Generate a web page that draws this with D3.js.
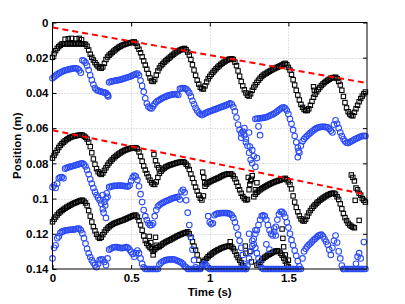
<!DOCTYPE html>
<html>
<head>
<meta charset="utf-8">
<script src="https://cdn.jsdelivr.net/npm/d3@7"></script>
<style>
  body { margin: 0; background: #fff; }
  svg { display: block; }
</style>
</head>
<body>
<svg id="chart" width="405" height="304"></svg>
<script>
// samples every 10 ms, values in metres (null = no marker)
const SAMPLE_DT = 0.01;

const xTicks = [0, 0.5, 1, 1.5];
const yTicks = [0, 0.02, 0.04, 0.06, 0.08, 0.1, 0.12, 0.14];

// black squares, upper trace
const blackTop = [
  0.0198, 0.0178, 0.0160, 0.0147, 0.0137, 0.0129, 0.0122, 0.0121, 0.0121, 0.0121,
  0.0121, 0.0121, 0.0121, 0.0121, 0.0121, 0.0121, 0.0121, 0.0121, 0.0121, 0.0121,
  0.0122, 0.0124, 0.0135, 0.0156, 0.0180, 0.0198, 0.0213, 0.0228, 0.0240, 0.0250,
  0.0258, 0.0260, 0.0252, 0.0232, 0.0210, 0.0196, 0.0186, 0.0178, 0.0170, 0.0162,
  0.0155, 0.0148, 0.0141, 0.0136, 0.0131, 0.0127, 0.0124, 0.0121, 0.0118, 0.0116,
  0.0114, 0.0112, 0.0110, 0.0118, 0.0135, 0.0152, 0.0172, 0.0195, 0.0218, 0.0242,
  0.0265, 0.0290, 0.0315, 0.0332, 0.0335, 0.0325, 0.0298, 0.0275, 0.0258, 0.0245,
  0.0236, 0.0226, 0.0218, 0.0210, 0.0203, 0.0195, 0.0187, 0.0180, 0.0173, 0.0167,
  0.0162, 0.0157, 0.0153, 0.0150, 0.0147, 0.0155, 0.0168, 0.0185, 0.0210, 0.0240,
  0.0270, 0.0300, 0.0328, 0.0350, 0.0368, 0.0376, 0.0378, 0.0360, 0.0338, 0.0320,
  0.0306, 0.0294, 0.0283, 0.0273, 0.0263, 0.0254, 0.0246, 0.0238, 0.0231, 0.0225,
  0.0219, 0.0214, 0.0210, 0.0207, 0.0206, 0.0210, 0.0225, 0.0245, 0.0275, 0.0305,
  0.0335, 0.0360, 0.0382, 0.0400, 0.0413, 0.0418, 0.0405, 0.0385, 0.0368, 0.0354,
  0.0340, 0.0328, 0.0317, 0.0307, 0.0299, 0.0293, 0.0288, 0.0282, 0.0277, 0.0272,
  0.0267, 0.0262, 0.0258, 0.0254, 0.0250, 0.0246, 0.0241, 0.0236, 0.0232, 0.0240,
  0.0255, 0.0270, 0.0295, 0.0325, 0.0355, 0.0385, 0.0412, 0.0440, 0.0465, 0.0482,
  0.0494, 0.0500, 0.0500, 0.0490, 0.0470, 0.0448, 0.0425, 0.0408, 0.0393, 0.0380,
  0.0369, 0.0358, 0.0349, 0.0341, 0.0334, 0.0328, 0.0322, 0.0317, 0.0314, 0.0312,
  0.0311, 0.0318, 0.0335, 0.0355, 0.0385, 0.0420, 0.0455, 0.0485, 0.0507, 0.0520,
  0.0528, 0.0530, 0.0510, 0.0490, 0.0470, 0.0450, 0.0432, 0.0418, 0.0405, 0.0395
];

// blue circles, upper trace
const blueTop = [
  0.0317, 0.0310, 0.0302, 0.0295, 0.0289, 0.0284, 0.0280, 0.0276, 0.0272, 0.0270,
  0.0267, 0.0265, 0.0263, 0.0261, 0.0260, 0.0260, 0.0263, 0.0272, 0.0285, 0.0215,
  0.0218, 0.0228, 0.0245, 0.0270, 0.0300, 0.0327, 0.0352, 0.0372, 0.0382, 0.0387,
  0.0390, 0.0393, 0.0396, 0.0398, 0.0400, 0.0410, 0.0340, 0.0336, 0.0334, 0.0332,
  0.0330, 0.0329, 0.0327, 0.0325, 0.0323, 0.0320, 0.0317, 0.0314, 0.0311, 0.0308,
  0.0305, 0.0300, 0.0297, 0.0293, 0.0290, 0.0300, 0.0330, 0.0360, 0.0393, 0.0430,
  0.0460, 0.0478, 0.0486, 0.0488, 0.0475, 0.0462, 0.0452, 0.0445, 0.0440, 0.0434,
  0.0429, 0.0425, 0.0421, 0.0417, 0.0414, 0.0412, 0.0410, 0.0408, 0.0406, 0.0408,
  0.0412, 0.0376, 0.0374, 0.0373, 0.0374, 0.0378, 0.0386, 0.0400, 0.0420, 0.0445,
  0.0465, 0.0485, 0.0500, 0.0512, 0.0520, 0.0526, 0.0522, 0.0516, 0.0512, 0.0508,
  0.0505, 0.0501, 0.0498, 0.0495, 0.0491, 0.0488, 0.0484, 0.0481, 0.0478, 0.0475,
  0.0471, 0.0468, 0.0463, 0.0459, 0.0465, 0.0480, 0.0505, 0.0540, 0.0580, 0.0610,
  0.0630, 0.0620, 0.0640, 0.0660, 0.0700, 0.0740, 0.0780, 0.0800, 0.0760, 0.0548,
  0.0546, 0.0545, 0.0544, 0.0543, 0.0542, 0.0540, 0.0538, 0.0534, 0.0530, 0.0526,
  0.0522, 0.0517, 0.0511, 0.0504, 0.0497, 0.0490, 0.0484, 0.0482, 0.0488, 0.0500,
  0.0520, 0.0548, 0.0575, 0.0610, 0.0645, 0.0680, 0.0710, 0.0740, 0.0700, 0.0675,
  0.0662, 0.0652, 0.0643, 0.0635, 0.0627, 0.0619, 0.0612, 0.0606, 0.0600, 0.0597,
  0.0594, 0.0593, 0.0592, 0.0593, 0.0594, 0.0596, 0.0605, 0.0615, 0.0625, 0.0580,
  0.0556, 0.0575, 0.0600, 0.0625, 0.0645, 0.0662, 0.0675, 0.0683, 0.0685, 0.0680,
  0.0675, 0.0670, 0.0665, 0.0660, 0.0656, 0.0652, 0.0648, 0.0645, 0.0644, 0.0645
];

// black squares, middle trace
const blackMid = [
  0.0770, 0.0755, 0.0740, 0.0725, 0.0710, 0.0698, 0.0688, 0.0680, 0.0672, 0.0665,
  0.0659, 0.0654, 0.0650, 0.0647, 0.0645, 0.0643, 0.0641, 0.0640, 0.0639, 0.0640,
  0.0645, 0.0652, 0.0662, 0.0680, 0.0705, 0.0740, 0.0775, 0.0805, 0.0830, 0.0848,
  0.0858, 0.0863, 0.0855, 0.0840, 0.0825, 0.0810, 0.0798, 0.0788, 0.0778, 0.0769,
  0.0761, 0.0754, 0.0747, 0.0741, 0.0735, 0.0730, 0.0726, 0.0722, 0.0719, 0.0716,
  0.0714, 0.0712, 0.0711, 0.0711, 0.0718, 0.0735, 0.0760, 0.0788, 0.0815, 0.0838,
  0.0858, 0.0877, 0.0895, 0.0910, 0.0918, 0.0920, 0.0905, 0.0880, 0.0857, 0.0845,
  0.0835, 0.0827, 0.0821, 0.0816, 0.0812, 0.0809, 0.0806, 0.0803, 0.0800, 0.0797,
  0.0795, 0.0793, 0.0792, 0.0791, 0.0795, 0.0805, 0.0815, 0.0835, 0.0860, 0.0885,
  0.0910, 0.0935, 0.0958, 0.0980, 0.0998, 0.1008, 0.0985, 0.0930, 0.0918, 0.0910,
  0.0905, 0.0900, 0.0896, 0.0892, 0.0888, 0.0884, 0.0880, 0.0875, 0.0870, 0.0866,
  0.0863, 0.0861, 0.0860, 0.0859, 0.0862, 0.0872, 0.0888, 0.0908, 0.0930, 0.0950,
  0.0970, 0.0988, 0.1000, 0.1008, 0.1005, 0.0950, 0.0900, 0.0870, 0.0990, 0.0975,
  0.0965, 0.0957, 0.0950, 0.0944, 0.0938, 0.0933, 0.0928, 0.0923, 0.0918, 0.0914,
  0.0910, 0.0906, 0.0903, 0.0900, 0.0897, 0.0894, 0.0890, 0.0887, 0.0885, 0.0893,
  0.0905, 0.0920, 0.0945, 0.0985, 0.1020, 0.1050, 0.1075, 0.1098, 0.1115, 0.1125,
  0.1128, 0.1118, 0.1100, 0.1082, 0.1068, 0.1055, 0.1044, 0.1035, 0.1026, 0.1018,
  0.1010, 0.1003, 0.0997, 0.0991, 0.0985, 0.0980, 0.0976, 0.0972, 0.0970, 0.0969,
  0.0975, 0.0990, 0.1005, 0.1030, 0.1058, 0.1085, 0.1108, 0.1125, 0.1140, 0.1150,
  0.1157, 0.1162, 0.1166, null, null, null, null, null, null, null
];

// blue circles, middle trace
const blueMid = [
  0.0935, 0.0925, 0.0940, 0.0915, 0.0885, 0.0880, 0.0878, 0.0885, 0.0830, 0.0826,
  0.0822, 0.0820, 0.0818, 0.0815, 0.0812, 0.0810, 0.0807, 0.0804, 0.0801, 0.0800,
  0.0806, 0.0818, 0.0838, 0.0862, 0.0890, 0.0915, 0.0940, 0.0962, 0.0980, 0.0995,
  0.1010, 0.1030, 0.1060, 0.1020, 0.1000, 0.0990, 0.0935, 0.0932, 0.0930, 0.0928,
  0.0927, 0.0927, 0.0926, 0.0926, 0.0927, 0.0928, 0.0929, 0.0930, 0.0932, 0.0925,
  0.0900, 0.0880, 0.0870, 0.0875, 0.0895, 0.0930, 0.0975, 0.1020, 0.1065, 0.1100,
  0.1122, 0.1140, 0.1151, 0.1150, 0.1140, 0.1100, 0.1065, 0.1045, 0.1037, 0.1030,
  0.1025, 0.1020, 0.1015, 0.1011, 0.1008, 0.1004, 0.1000, 0.0997, 0.0995, 0.0992,
  0.0990, 0.1005, 0.0960, 0.0950, 0.0965, 0.1010, 0.1080, 0.1150, 0.1220, 0.1290,
  0.1350, 0.1390, null, null, null, null, null, null, null, 0.1100,
  0.1135, 0.1145, 0.1140, 0.1095, 0.1088, 0.1085, 0.1084, 0.1083, 0.1082, 0.1082,
  0.1082, 0.1083, 0.1084, 0.1088, 0.1095, 0.1110, 0.1135, 0.1165, 0.1205, 0.1240,
  0.1280, 0.1320, 0.1370, 0.1400, null, null, null, null, 0.1230, 0.1200,
  0.1180, 0.1150, 0.1120, 0.1100, 0.1095, 0.1100, 0.1120, 0.1150, 0.1180, 0.1200,
  0.1210, 0.1190, 0.1160, 0.1120, 0.1090, 0.1075, 0.1075, 0.1085, 0.1105, 0.1135,
  0.1165, 0.1200, 0.1235, 0.1265, 0.1295, 0.1325, 0.1355, 0.1385, 0.1400, 0.1340,
  0.1300, 0.1285, 0.1272, 0.1262, 0.1255, 0.1245, 0.1236, 0.1228, 0.1220, 0.1212,
  0.1207, 0.1205, 0.1215, 0.1230, 0.1245, 0.1262, 0.1290, 0.1320, 0.1280, 0.1240,
  0.1210, 0.1250, 0.1300, 0.1340, 0.1380, 0.1400, null, null, null, null,
  null, null, null, 0.1370, 0.1330, 0.1310, 0.1340, null, 0.1247, null
];

// black squares, lower trace
const blackLow = [
  0.1132, 0.1118, 0.1105, 0.1093, 0.1083, 0.1075, 0.1068, 0.1061, 0.1055, 0.1049,
  0.1044, 0.1039, 0.1034, 0.1029, 0.1025, 0.1022, 0.1018, 0.1014, 0.1011, 0.1009,
  0.1015, 0.1025, 0.1040, 0.1068, 0.1100, 0.1133, 0.1160, 0.1183, 0.1203, 0.1218,
  0.1226, 0.1220, 0.1205, 0.1190, 0.1178, 0.1168, 0.1160, 0.1153, 0.1147, 0.1142,
  0.1138, 0.1135, 0.1131, 0.1128, 0.1125, 0.1122, 0.1118, 0.1114, 0.1110, 0.1106,
  0.1102, 0.1098, 0.1095, 0.1094, 0.1105, 0.1125, 0.1150, 0.1180, 0.1212, 0.1238,
  0.1255, 0.1268, 0.1278, 0.1285, 0.1300, 0.1290, 0.1280, 0.1276, 0.1272, 0.1265,
  0.1258, 0.1252, 0.1247, 0.1242, 0.1238, 0.1234, 0.1229, 0.1224, 0.1219, 0.1214,
  0.1210, 0.1206, 0.1202, 0.1198, 0.1195, 0.1192, 0.1189, 0.1200, 0.1220, 0.1245,
  0.1270, 0.1293, 0.1320, 0.1350, 0.1397, 0.1375, 0.1359, 0.1350, 0.1340, 0.1330,
  0.1322, 0.1315, 0.1308, 0.1302, 0.1297, 0.1292, 0.1288, 0.1283, 0.1279, 0.1276,
  0.1273, 0.1271, 0.1270, 0.1270, 0.1275, 0.1285, 0.1300, 0.1320, 0.1335, 0.1350,
  0.1365, 0.1380, 0.1395, null, null, null, null, null, null, null,
  0.1378, 0.1370, 0.1362, 0.1350, 0.1340, 0.1333, 0.1327, 0.1321, 0.1316, 0.1311,
  0.1306, 0.1302, 0.1298, 0.1296, 0.1300, 0.1310, 0.1322, 0.1338, 0.1355, 0.1372,
  0.1388, null, null, null, null, null, null, null, null, null,
  null, null, null, null, null, null, null, null, null, null,
  null, null, null, null, null, null, null, null, null, null,
  null, null, null, null, null, null, null, null, null, null,
  null, null, null, null, null, null, null, null, null, null
];

// blue circles, lower trace (0.14 = sits on the bottom edge)
const blueLow = [
  0.1340, 0.1280, 0.1265, 0.1225, 0.1215, 0.1195, 0.1188, 0.1185, 0.1182, 0.1180,
  0.1179, 0.1178, 0.1177, 0.1176, 0.1175, 0.1173, 0.1171, 0.1170, 0.1180, 0.1198,
  0.1225, 0.1255, 0.1285, 0.1311, 0.1332, 0.1350, 0.1365, 0.1378, 0.1390, 0.1370,
  0.1350, 0.1345, 0.1346, 0.1360, 0.1378, 0.1340, 0.1290, 0.1285, 0.1280, 0.1277,
  0.1275, 0.1276, 0.1278, 0.1280, 0.1282, 0.1280, 0.1278, 0.1276, 0.1280, 0.1290,
  0.1302, 0.1315, 0.1331, 0.1310, 0.1295, 0.1310, 0.1340, 0.1370, 0.1390, 0.1400,
  0.1400, 0.1400, 0.1400, 0.1400, 0.1400, 0.1400, 0.1400, 0.1400, 0.1375, 0.1365,
  0.1358, 0.1353, 0.1350, 0.1348, 0.1346, 0.1346, 0.1345, 0.1346, 0.1348, 0.1352,
  0.1356, 0.1359, 0.1365, 0.1372, 0.1385, 0.1390, 0.1400, 0.1400, 0.1400, 0.1400,
  0.1400, 0.1400, 0.1400, 0.1400, 0.1400, 0.1385, 0.1375, 0.1370, 0.1380, 0.1395,
  0.1400, 0.1400, 0.1400, 0.1400, 0.1400, 0.1400, 0.1400, 0.1400, 0.1400, 0.1400,
  0.1400, 0.1400, 0.1400, 0.1400, 0.1400, 0.1400, 0.1400, 0.1400, 0.1400, 0.1400,
  0.1400, 0.1400, 0.1400, 0.1400, 0.1380, 0.1340, 0.1300, 0.1270, 0.1260, 0.1280,
  0.1310, 0.1340, 0.1370, 0.1395, 0.1400, 0.1400, 0.1400, 0.1400, 0.1400, 0.1400,
  0.1400, 0.1400, 0.1400, 0.1400, 0.1400, 0.1400, 0.1400, 0.1400, 0.1400, 0.1400,
  0.1400, 0.1400, 0.1400, 0.1400, 0.1400, 0.1400, 0.1400, 0.1400, null, null,
  null, null, null, null, null, null, null, null, null, null,
  null, null, null, null, null, null, null, null, null, null,
  null, null, null, null, null, 0.1400, 0.1400, 0.1400, 0.1400, 0.1400,
  0.1400, 0.1400, 0.1400, 0.1400, 0.1400, 0.1400, 0.1400, 0.1400, 0.1400, 0.1400
];

// stray markers off the main traces: [time, position]
const blackStray = [
  [0.08, 0.0095], [0.10, 0.0092], [0.12, 0.0090], [0.15, 0.0092], [0.17, 0.0090], [0.185, 0.0098],
  [0.645, 0.0750], [0.655, 0.0785], [0.665, 0.0810], [0.675, 0.0825],
  [0.955, 0.0850], [0.962, 0.0880], [0.968, 0.0910],
  [1.245, 0.0880], [1.255, 0.0920], [1.265, 0.0890], [1.29, 0.0950], [1.30, 0.0910],
  [1.66, 0.0365], [1.665, 0.0385],
  [1.90, 0.0866], [1.91, 0.0880], [1.92, 0.0900], [1.93, 0.0940], [1.94, 0.0950],
  [1.95, 0.0970], [1.96, 0.0980], [1.97, 0.1000], [1.98, 0.1010], [1.99, 0.1020],
  [1.925, 0.1010], [1.95, 0.1124],
  [0.615, 0.1215], [0.625, 0.1250], [0.64, 0.1320], [0.655, 0.1220], [0.66, 0.1265],
  [1.13, 0.1245], [1.226, 0.1270], [1.23, 0.1310], [1.255, 0.1300], [1.265, 0.1360],
  [1.46, 0.1173], [1.465, 0.1226], [1.47, 0.1274], [1.48, 0.1320], [1.50, 0.1350]
];

const blueStray = [
  [0.32, 0.0980], [0.325, 0.1080], [0.335, 0.1040], [0.34, 0.1110], [0.345, 0.0970],
  [0.35, 0.0415], [0.355, 0.0420],
  [1.20, 0.0655], [1.22, 0.0600], [1.23, 0.0680], [1.25, 0.0625], [1.255, 0.0705],
  [1.27, 0.0725], [1.29, 0.0820], [1.30, 0.0770], [1.31, 0.0590], [1.32, 0.0640],
  [1.56, 0.0765], [1.565, 0.0730],
  [1.25, 0.1200], [1.27, 0.1240], [1.29, 0.1180],
  [1.36, 0.1260], [1.38, 0.1290], [1.41, 0.1170], [1.42, 0.1210]
];

// red dashed envelopes: [time, position] at both ends
const envelopeTop = [[0, 0.0028], [1.99, 0.0342]];
const envelopeMid = [[0, 0.0612], [1.99, 0.0976]];

const svg = d3.select("#chart");
const margin = { left: 52.5, right: 38, top: 22.5, bottom: 35 };
const W = 405, H = 304;

const x = d3.scaleLinear().domain([0, 2]).range([margin.left, W - margin.right]);
const y = d3.scaleLinear().domain([0, 0.14]).range([margin.top, H - margin.bottom]);

const FONT = "'Liberation Sans', Arial, Helvetica, sans-serif";

function samples(values) {
  var out = [];
  for (var i = 0; i < values.length; i++) {
    if (values[i] != null) out.push([i * SAMPLE_DT, values[i]]);
  }
  return out;
}

// grid
const grid = svg.append("g")
    .attr("stroke", "#c4c4c4")
    .attr("stroke-width", 1)
    .attr("stroke-dasharray", "1,2");

grid.selectAll("line.gx")
    .data(xTicks.slice(1))
  .enter().append("line")
    .attr("x1", d => Math.round(x(d)) + 0.5)
    .attr("x2", d => Math.round(x(d)) + 0.5)
    .attr("y1", y(0))
    .attr("y2", y(0.14));

grid.selectAll("line.gy")
    .data(yTicks.slice(1, -1))
  .enter().append("line")
    .attr("y1", d => Math.round(y(d)) + 0.5)
    .attr("y2", d => Math.round(y(d)) + 0.5)
    .attr("x1", x(0))
    .attr("x2", x(2));

// axes, MATLAB style ticks pointing inwards on all sides
const fmt = d3.format("~g");
const xBottom = svg.append("g")
    .attr("transform", "translate(0," + y(0.14) + ")")
    .call(d3.axisBottom(x).tickValues(xTicks).tickFormat(fmt).tickSizeInner(-4).tickSizeOuter(0).tickPadding(5));
const xTop = svg.append("g")
    .attr("transform", "translate(0," + y(0) + ")")
    .call(d3.axisTop(x).tickValues(xTicks).tickFormat("").tickSizeInner(-4).tickSizeOuter(0));
const yLeft = svg.append("g")
    .attr("transform", "translate(" + x(0) + ",0)")
    .call(d3.axisLeft(y).tickValues(yTicks).tickFormat(fmt).tickSizeInner(-4).tickSizeOuter(0).tickPadding(4));
const yRight = svg.append("g")
    .attr("transform", "translate(" + x(2) + ",0)")
    .call(d3.axisRight(y).tickValues(yTicks).tickFormat("").tickSizeInner(-4).tickSizeOuter(0));

[xBottom, xTop, yLeft, yRight].forEach(function(g) {
  g.select(".domain").remove();
  g.selectAll(".tick line").attr("stroke", "#000");
  g.selectAll("text")
      .attr("font-family", FONT)
      .attr("font-size", 11.5)
      .attr("font-weight", "bold")
      .attr("fill", "#000");
});

// markers
const black = "#000000", blue = "#2a4af5";

function squares(data) {
  svg.append("g").selectAll("rect")
      .data(data)
    .enter().append("rect")
      .attr("x", d => x(d[0]) - 2.2)
      .attr("y", d => y(d[1]) - 2.2)
      .attr("width", 4.4)
      .attr("height", 4.4)
      .attr("fill", "none")
      .attr("stroke", black)
      .attr("stroke-width", 1.05);
}

function circles(data) {
  svg.append("g").selectAll("circle")
      .data(data)
    .enter().append("circle")
      .attr("cx", d => x(d[0]))
      .attr("cy", d => y(d[1]))
      .attr("r", 2.8)
      .attr("fill", "none")
      .attr("stroke", blue)
      .attr("stroke-width", 1.05);
}

squares(samples(blackTop));
squares(samples(blackMid));
squares(samples(blackLow));
squares(blackStray);
circles(samples(blueTop));
circles(samples(blueMid));
circles(samples(blueLow));
circles(blueStray);

// red dashed lines
[envelopeTop, envelopeMid].forEach(function(seg) {
  svg.append("path")
      .datum(seg)
      .attr("d", d3.line().x(d => x(d[0])).y(d => y(d[1])))
      .attr("fill", "none")
      .attr("stroke", "#ff0000")
      .attr("stroke-width", 2)
      .attr("stroke-dasharray", "6,4");
});

// box
svg.append("rect")
    .attr("x", x(0))
    .attr("y", y(0))
    .attr("width", x(2) - x(0))
    .attr("height", y(0.14) - y(0))
    .attr("fill", "none")
    .attr("stroke", "#000")
    .attr("stroke-width", 1);

// labels
svg.append("text")
    .attr("x", (x(0) + x(2)) / 2)
    .attr("y", 296)
    .attr("text-anchor", "middle")
    .attr("font-family", FONT)
    .attr("font-size", 11.5)
    .attr("font-weight", "bold")
    .text("Time (s)");

svg.append("text")
    .attr("transform", "translate(21," + ((y(0) + y(0.14)) / 2) + ") rotate(-90)")
    .attr("text-anchor", "middle")
    .attr("font-family", FONT)
    .attr("font-size", 11.5)
    .attr("font-weight", "bold")
    .text("Position (m)");
</script>
</body>
</html>
